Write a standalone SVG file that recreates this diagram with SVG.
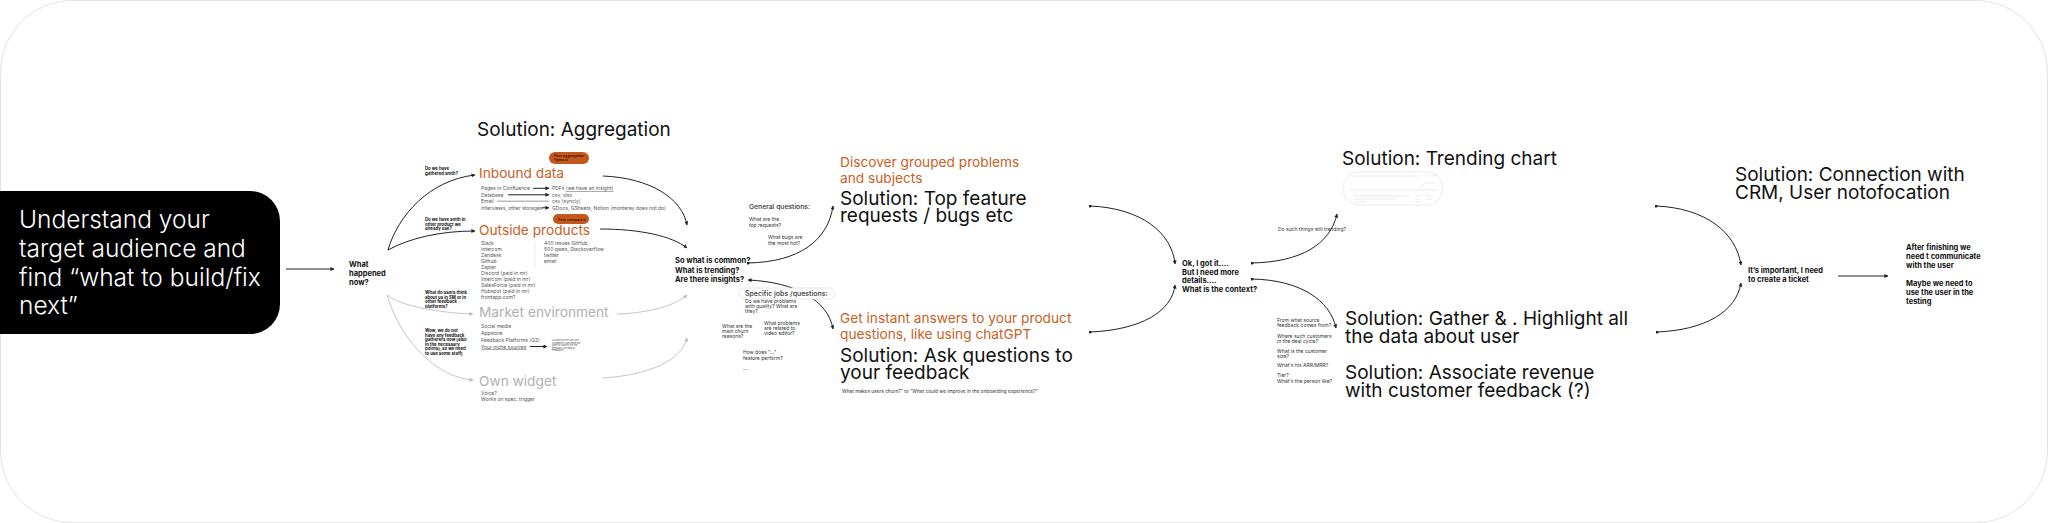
<svg xmlns="http://www.w3.org/2000/svg" width="2048" height="523" viewBox="0 0 2048 523">
<style>
text{font-family:Inter,"Liberation Sans",sans-serif;fill:#111}
.big{font-size:19px}
.org{font-size:13.7px;fill:#c8601f}
.grh{font-size:13.7px;fill:#b0b0b0}
.li{font-size:5px;fill:#555}
.bq{font-size:7.5px;font-weight:700}
.tq{font-size:4.3px;font-weight:700}
.sq{font-size:5px;fill:#333}
.c{fill:none;stroke:#222;stroke-width:1}
.cg{fill:none;stroke:#c6c6c6;stroke-width:1}
</style>
<defs>
<marker id="ah" viewBox="0 0 10 10" refX="9" refY="5" markerWidth="4" markerHeight="4" markerUnits="userSpaceOnUse" orient="auto-start-reverse"><path d="M0,0 L10,5 L0,10 z" fill="#222"/></marker>
<marker id="ag" viewBox="0 0 10 10" refX="9" refY="5" markerWidth="4" markerHeight="4" markerUnits="userSpaceOnUse" orient="auto"><path d="M0,0 L10,5 L0,10 z" fill="#bbb"/></marker>
<marker id="dt" viewBox="0 0 10 10" refX="5" refY="5" markerWidth="3" markerHeight="3" markerUnits="userSpaceOnUse"><circle cx="5" cy="5" r="5" fill="#222"/></marker>
</defs>
<rect x="0.5" y="0.5" width="2047" height="522" rx="72" fill="#fff" stroke="#e4e4e4"/>

<g id="goal">
<path d="M0,191 H250 a30,30 0 0 1 30,30 V304 a30,30 0 0 1 -30,30 H0 z" fill="#000"/>
<text x="19" y="228" style="font-size:24.5px;font-weight:300;fill:#fff">Understand your</text>
<text x="19" y="257" style="font-size:24.5px;font-weight:300;fill:#fff">target audience and</text>
<text x="19" y="286" style="font-size:24.5px;font-weight:300;fill:#fff">find “what to build/fix</text>
<text x="19" y="314" style="font-size:24.5px;font-weight:300;fill:#fff">next”</text>
</g>

<g id="what-happened">
<text class="bq" x="349" y="266.5">What</text>
<text class="bq" x="349" y="275.5">happened</text>
<text class="bq" x="349" y="284.5">now?</text>
</g>

<g id="edge-labels-left">
<text class="tq" x="425" y="170">Do we have</text>
<text class="tq" x="425" y="174.5">gathered smth?</text>
<text class="tq" x="425" y="221">Do we have smth in</text>
<text class="tq" x="425" y="225.5">other product we</text>
<text class="tq" x="425" y="230">already use?</text>
<text class="tq" x="425" y="294">What do users think</text>
<text class="tq" x="425" y="298.5">about us in SM or in</text>
<text class="tq" x="425" y="303">other feedback</text>
<text class="tq" x="425" y="307.5">platforms?</text>
<text class="tq" x="425" y="332">Wow, we do not</text>
<text class="tq" x="425" y="336.5">have any feedback</text>
<text class="tq" x="425" y="341">gatherers now (also</text>
<text class="tq" x="425" y="345.5">in the necessary</text>
<text class="tq" x="425" y="350">points), so we need</text>
<text class="tq" x="425" y="354.5">to use some staff)</text>
</g>

<g id="aggregation-title">
<text class="big" x="477" y="136">Solution: Aggregation</text>
</g>

<g id="inbound">
<rect x="549" y="152" width="40" height="12" rx="6" fill="#c4581a"/>
<text x="554" y="157" style="font-size:3.6px;font-weight:700;fill:#4a1f05">Poor aggregation</text>
<text x="554" y="161" style="font-size:3.6px;font-weight:700;fill:#4a1f05">figma is</text>
<text class="org" x="479" y="178">Inbound data</text>
<text class="li" x="481" y="190">Pages in Confluence</text>
<text class="li" x="481" y="196.5">Database</text>
<text class="li" x="481" y="203">Email</text>
<text class="li" x="481" y="209.5">Interviews, other storages</text>
<text class="li" x="552" y="190">PDFs <tspan text-decoration="underline">(we have an insight)</tspan></text>
<text class="li" x="552" y="196.5">csv, xlsx</text>
<text class="li" x="552" y="203">csv (syncly)</text>
<text class="li" x="552" y="209.5">GDocs, GSheets, Notion (monterey does not do)</text>
<path class="c" d="M533,188.3 H549" stroke-width="0.6" marker-end="url(#ah)"/>
<path class="c" d="M508,194.8 H549" stroke-width="0.6" marker-end="url(#ah)"/>
<path d="M497,201.3 H549" stroke="#bbb" stroke-width="1.6" fill="none"/>
<path class="c" d="M542,207.8 H549" stroke-width="0.6" marker-end="url(#ah)"/>
</g>

<g id="outside">
<rect x="553" y="214" width="36" height="10" rx="5" fill="#c4581a"/>
<text x="558" y="220.5" style="font-size:3.6px;font-weight:700;fill:#4a1f05">Poor compare it</text>
<text class="org" x="479" y="235">Outside products</text>
<text class="li" x="481" y="245">Slack</text>
<text class="li" x="481" y="251">Intercom</text>
<text class="li" x="481" y="257">Zendesk</text>
<text class="li" x="481" y="263">Github</text>
<text class="li" x="481" y="269">Zapier</text>
<text class="li" x="481" y="275">Discord (paid in mr)</text>
<text class="li" x="481" y="281">Intercom (paid in mr)</text>
<text class="li" x="481" y="287">SalesForce (paid in mr)</text>
<text class="li" x="481" y="293">Hubspot (paid in mr)</text>
<text class="li" x="481" y="299">frontapp.com?</text>
<line x1="535" y1="241" x2="535" y2="268" stroke="#ddd" stroke-width="0.6"/>
<text class="li" x="544" y="245">400 issues GitHub,</text>
<text class="li" x="544" y="251">500 qwes, Stackoverflow</text>
<text class="li" x="544" y="257">twitter</text>
<text class="li" x="544" y="263">email</text>
</g>

<g id="market">
<text class="grh" x="479" y="317">Market environment</text>
<text class="li" x="481" y="328">Social media</text>
<text class="li" x="481" y="335">Appstore</text>
<text class="li" x="481" y="341.5">Feedback Platforms (G2)</text>
<text class="li" x="481" y="348.5" text-decoration="underline">Your niche sources</text>
<path class="c" d="M530,346.5 H547" stroke-width="0.8" marker-end="url(#ah)"/>
<text x="552" y="341" style="font-size:2.4px;fill:#555">As soon as the user are</text>
<text x="552" y="343.6" style="font-size:2.4px;fill:#555">competitors are more are</text>
<text x="552" y="346.2" style="font-size:2.4px;fill:#555">specific places for the</text>
<text x="552" y="348.8" style="font-size:2.4px;fill:#555">feedback like Reg at</text>
<text x="552" y="351.4" style="font-size:2.4px;fill:#555">feedbacks</text>
</g>

<g id="widget">
<text class="grh" x="479" y="386">Own widget</text>
<text class="li" x="481" y="394.5">Voice?</text>
<text class="li" x="481" y="400.5">Works on spec. trigger</text>
</g>

<g id="common">
<text class="bq" x="675" y="263">So what is common?</text>
<text class="bq" x="675" y="272.5">What is trending?</text>
<text class="bq" x="675" y="282">Are there insights?</text>
</g>

<g id="general-questions">
<text x="749" y="209" style="font-size:6.8px;font-weight:500;fill:#333">General questions:</text>
<text class="sq" x="749" y="221">What are the</text>
<text class="sq" x="749" y="227">top requests?</text>
<text class="sq" x="768" y="239">What bugs are</text>
<text class="sq" x="768" y="245">the most hot?</text>
</g>

<g id="top-feature">
<text class="org" x="840" y="167">Discover grouped problems</text>
<text class="org" x="840" y="183">and subjects</text>
<text class="big" x="840" y="205">Solution: Top feature</text>
<text class="big" x="840" y="222">requests / bugs etc</text>
</g>

<g id="ask-questions">
<text class="org" x="840" y="323">Get instant answers to your product</text>
<text class="org" x="840" y="339">questions, like using chatGPT</text>
<text class="big" x="840" y="362">Solution: Ask questions to</text>
<text class="big" x="840" y="379">your feedback</text>
<text x="842" y="393" style="font-size:4.8px;fill:#333">What makes users churn?" to "What could we improve in the onboarding experience?"</text>
</g>

<g id="connectors">
<path class="c" d="M286,269 H334" marker-end="url(#ah)"/>
<path class="c" d="M388,250 C398,215 430,180 475,175" marker-end="url(#ah)"/>
<path class="c" d="M388,250 C410,238 440,231 475,231" marker-end="url(#ah)"/>
<path class="cg" d="M387,295 C400,306 440,313 473,314" marker-end="url(#ag)"/>
<path class="cg" d="M387,295 C402,345 440,378 473,380" marker-end="url(#ag)"/>
<path class="c" d="M603,176 C650,178 682,198 687,225" marker-end="url(#ah)"/>
<path class="c" d="M600,229 C640,229 672,236 687,248" marker-end="url(#ah)"/>
<path class="cg" d="M617,314 C650,313 676,305 687,295" marker-end="url(#ag)"/>
<path class="cg" d="M603,378 C650,375 682,360 687,338" marker-end="url(#ag)"/>
<path class="c" d="M748,263 C800,262 828,240 833,206" marker-start="url(#dt)" marker-end="url(#ah)"/>
<path class="c" d="M748,280 C795,282 828,300 833,329" marker-start="url(#ah)" marker-end="url(#ah)"/>
<path class="c" d="M1090,206 C1140,208 1172,232 1175,264" marker-start="url(#dt)" marker-end="url(#ah)"/>
<path class="c" d="M1090,332 C1140,330 1172,312 1175,285" marker-start="url(#dt)" marker-end="url(#ah)"/>
<path class="c" d="M1252,263 C1300,262 1330,245 1337,214" marker-start="url(#dt)" marker-end="url(#ah)"/>
<path class="c" d="M1252,279 C1300,280 1330,300 1336,328" marker-start="url(#dt)" marker-end="url(#ah)"/>
<path class="c" d="M1656,206 C1705,208 1736,232 1741,265" marker-start="url(#dt)" marker-end="url(#ah)"/>
<path class="c" d="M1657,332 C1705,330 1736,312 1741,283" marker-start="url(#dt)" marker-end="url(#ah)"/>
<path class="c" d="M1838,276 H1888" marker-end="url(#ah)"/>
</g>

<g id="specific-jobs">
<rect x="739" y="288" width="96" height="11" rx="5.5" fill="#fff" stroke="#ddd" stroke-width="0.7"/>
<text x="745" y="296" style="font-size:7px;font-weight:500;fill:#333">Specific jobs /questions:</text>
<text class="sq" x="745" y="303">Do we have problems</text>
<text class="sq" x="745" y="308">with quality? What are</text>
<text class="sq" x="745" y="313">they?</text>
<text class="sq" x="722" y="328">What are the</text>
<text class="sq" x="722" y="333">main churn</text>
<text class="sq" x="722" y="338">reasons?</text>
<text class="sq" x="764" y="325">What problems</text>
<text class="sq" x="764" y="330">are related to</text>
<text class="sq" x="764" y="335">video editor?</text>
<text class="sq" x="743" y="354">How does "..."</text>
<text class="sq" x="743" y="360">feature perform?</text>
<text class="sq" x="743" y="370">...</text>
</g>

<g id="context">
<text class="bq" x="1182" y="266">Ok, I got it....</text>
<text class="bq" x="1182" y="274.5">But I need more</text>
<text class="bq" x="1182" y="283">details....</text>
<text class="bq" x="1182" y="291.5">What is the context?</text>
</g>

<g id="trending">
<text x="1278" y="231" style="font-size:5px;fill:#333">Do such things still trending?</text>
<text class="big" x="1342" y="165">Solution: Trending chart</text>
<rect x="1343" y="172" width="100" height="33" rx="16" fill="#fff" stroke="#e2e2e2" stroke-width="0.7"/>
<g stroke="#ddd" stroke-width="0.6" fill="none">
<path d="M1352,176 H1420 M1425,176 H1428 M1432,176 H1436"/>
<path d="M1350,190 H1437"/>
<path d="M1418,189 L1426,183 H1436"/>
<path d="M1354,196 H1410 M1415,196 H1421 M1426,196 H1432"/>
<path d="M1354,199 H1395 M1415,199 H1421 M1426,199 H1432"/>
<path d="M1354,202 H1366 M1415,202 H1421"/>
</g>
</g>

<g id="gather">
<text class="sq" x="1277" y="322">From what source</text>
<text class="sq" x="1277" y="327">feedback comes from?</text>
<text class="sq" x="1277" y="338">Where such customers</text>
<text class="sq" x="1277" y="343">in the deal cycle?</text>
<text class="sq" x="1277" y="353">What is the customer</text>
<text class="sq" x="1277" y="358">size?</text>
<text class="sq" x="1277" y="367">What's his ARR/MRR?</text>
<text class="sq" x="1277" y="377">Tier?</text>
<text class="sq" x="1277" y="383">What's the person like?</text>
<text class="big" x="1345" y="325">Solution: Gather &amp; . Highlight all</text>
<text class="big" x="1345" y="343">the data about user</text>
<text class="big" x="1345" y="379">Solution: Associate revenue</text>
<text class="big" x="1345" y="397">with customer feedback (?)</text>
</g>

<g id="ticket">
<text class="big" x="1735" y="181">Solution: Connection with</text>
<text class="big" x="1735" y="199">CRM, User notofocation</text>
<text class="bq" x="1748" y="273">It’s important, I need</text>
<text class="bq" x="1748" y="282">to create a ticket</text>
</g>

<g id="communicate">
<text class="bq" x="1906" y="250">After finishing we</text>
<text class="bq" x="1906" y="259">need t communicate</text>
<text class="bq" x="1906" y="268">with the user</text>
<text class="bq" x="1906" y="286">Maybe we need to</text>
<text class="bq" x="1906" y="295">use the user in the</text>
<text class="bq" x="1906" y="304">testing</text>
</g>
</svg>
